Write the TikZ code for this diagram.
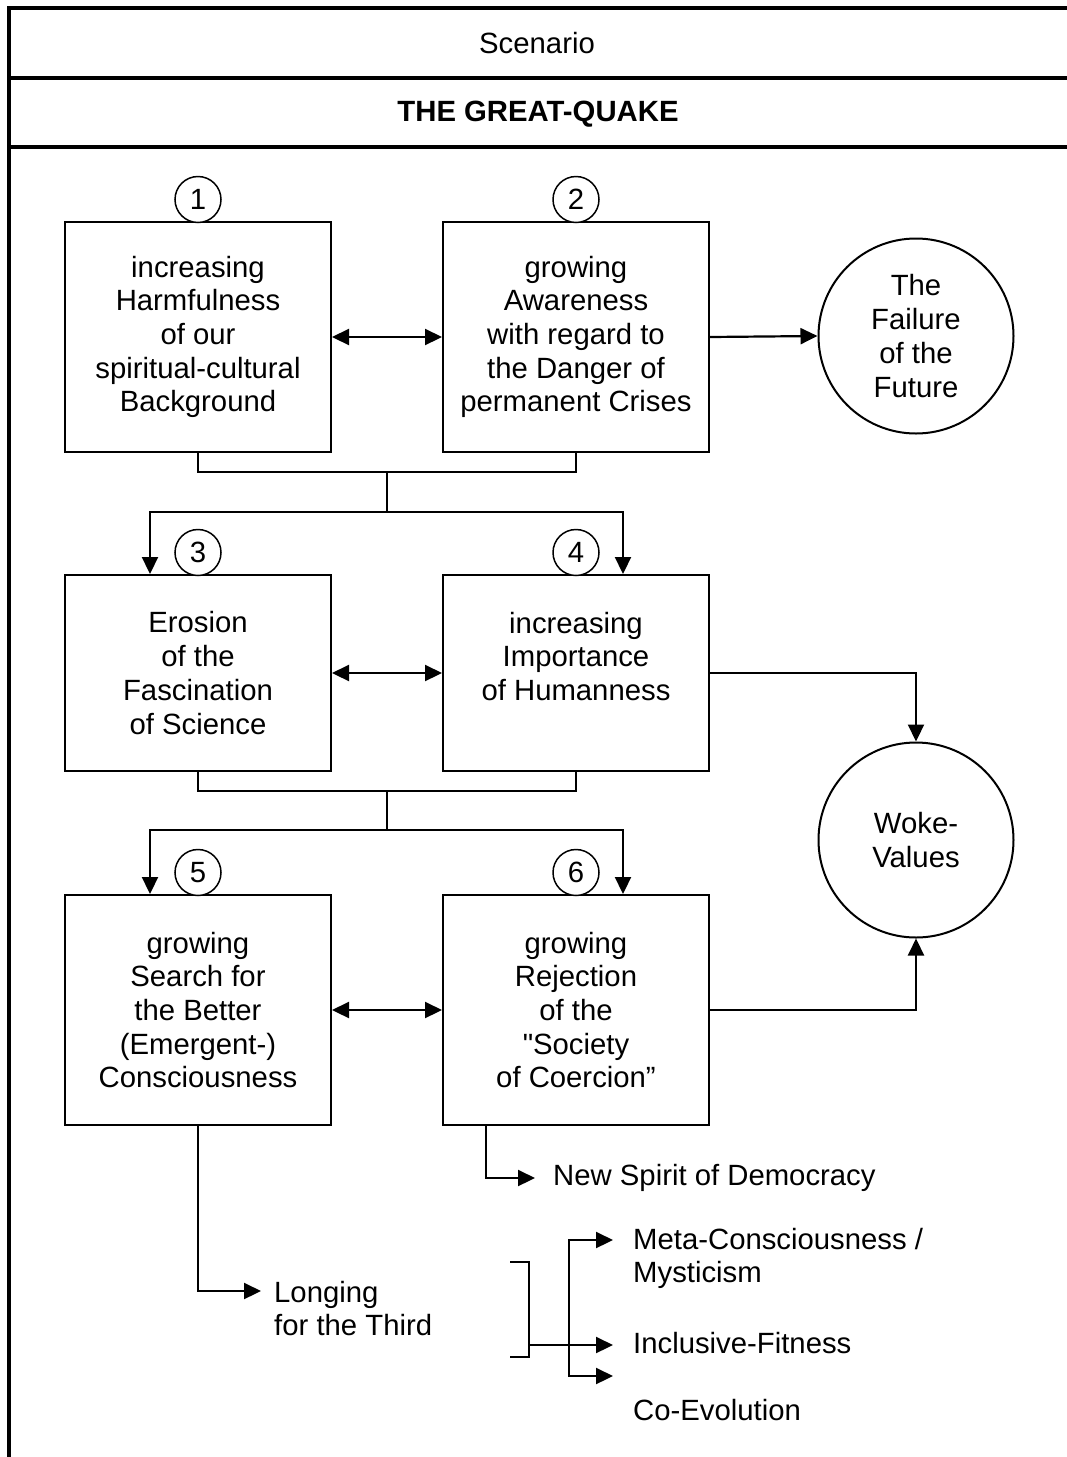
\documentclass[tikz,border=0pt]{standalone}
\usepackage{fontspec}
\setmainfont{Liberation Sans}
\usetikzlibrary{arrows.meta}
\begin{document}
\begin{tikzpicture}[x=1pt,y=-1pt,
  txt/.style={font=\fontsize{29.3}{33.7}\selectfont, align=center, inner sep=0pt},
  box/.style={txt, draw, line width=2pt, minimum width=266pt},
  bigcirc/.style={txt, draw, circle, line width=2pt, minimum size=195pt},
  num/.style={txt, draw, circle, line width=1.5pt, minimum size=46pt, fill=white},
  lbl/.style={txt, align=left, anchor=west},
  frame/.style={line width=4pt},
  conn/.style={line width=1.6pt},
  tip/.tip={Triangle[length=17pt,width=16pt]},
  arr/.style={line width=2.2pt, -tip},
  darr/.style={line width=2.2pt, tip-tip}
]
\useasboundingbox (0,0) rectangle (1066,1457);
% frame
\draw[frame] (1070,8) -- (9,8) -- (9,1462);
\draw[frame] (9,78) -- (1070,78);
\draw[frame] (9,147) -- (1070,147);
\node[txt] (scen) at (537,43) {Scenario};
\node[txt, font=\fontsize{29.3}{33.7}\selectfont\bfseries] (title) at (538,114) {THE GREAT-QUAKE};

% boxes
\node[box, minimum height=230pt] (b1) at (198,337) {increasing\\Harmfulness\\of our\\spiritual-cultural\\Background};
\node[box, minimum height=230pt] (b2) at (576,337) {growing\\Awareness\\with regard to\\the Danger of\\permanent Crises};
\node[box, minimum height=196pt] (b3) at (198,673) {Erosion\\of the\\Fascination\\of Science};
\node[box, minimum height=196pt] (b4) at (576,673) {increasing\\Importance\\of Humanness\\\mbox{}};
\node[box, minimum height=230pt] (b5) at (198,1010) {growing\\Search for\\the Better\\(Emergent-)\\Consciousness};
\node[box, minimum height=230pt] (b6) at (576,1010) {growing\\Rejection\\of the\\{\addfontfeatures{Ligatures=TeXOff}"}Society\\of Coercion”};

\node[bigcirc] (fail) at (916,336) {The\\Failure\\of the\\Future};
\node[bigcirc] (woke) at (916,840) {Woke-\\Values};

% numbers
\node[num] (n1) at (198,199.5) {1};
\node[num] (n2) at (576,199.5) {2};
\node[num] (n3) at (198,552.5) {3};
\node[num] (n4) at (576,552.5) {4};
\node[num] (n5) at (198,872.5) {5};
\node[num] (n6) at (576,872.5) {6};

% double arrows
\draw[darr] (b1.east) -- (b2.west);
\draw[darr] (b3.east) -- (b4.west);
\draw[darr] (b5.east) -- (b6.west);
\draw[arr] (b2.east) -- (fail.west);
\draw[arr] (b4.east) -| (woke.north);
\draw[arr] (b6.east) -| (woke.south);

% joins
\coordinate (j1) at (387,472);
\coordinate (j2) at (387,512);
\draw[conn] (b1.south) |- (j1) -| (b2.south);
\draw[conn] (j1) -- (j2);
\draw[arr] (j2) -| ([xshift=-48pt]b3.north);
\draw[arr] (j2) -| ([xshift=47pt]b4.north);

\coordinate (j3) at (387,791);
\coordinate (j4) at (387,830);
\draw[conn] (b3.south) |- (j3) -| (b4.south);
\draw[conn] (j3) -- (j4);
\draw[arr] (j4) -| ([xshift=-48pt]b5.north);
\draw[arr] (j4) -| ([xshift=47pt]b6.north);

% lower labels
\node[lbl] (dem) at (553,1178) {New Spirit of Democracy};
\coordinate (demtip) at (535,1178);
\draw[arr] ([xshift=-90pt]b6.south) |- (demtip);

\node[lbl] (long) at (274,1308.5) {Longing\\for the Third};
\coordinate (longtip) at (261,1291);
\draw[arr] (b5.south) |- (longtip);

\node[lbl] (meta) at (633,1258.5) {Meta-Consciousness /\\Mysticism};
\node[lbl] (incl) at (633,1343) {Inclusive-Fitness};
\node[lbl] (coev) at (633,1410) {Co-Evolution};

\coordinate (brTop) at (510,1262);
\coordinate (brBot) at (510,1357);
\coordinate (brMid) at (529,1345);
\draw[conn] (brTop) -- (529,1262) -- (529,1357) -- (brBot);
\coordinate (metatip) at (613,1240);
\coordinate (incltip) at (613,1345);
\coordinate (coevtip) at (613,1376);
\coordinate (spine) at (569,1300);
\draw[arr] (brMid) -- (incltip);
\draw[arr] (spine) |- (metatip);
\draw[arr] (spine) |- (coevtip);
\end{tikzpicture}
\end{document}
